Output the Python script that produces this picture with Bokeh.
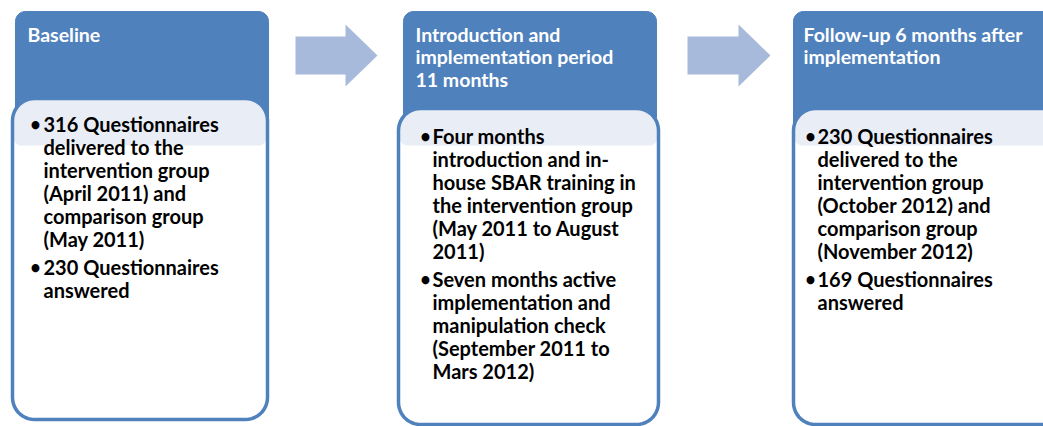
import numpy as np
from bokeh.plotting import figure
from bokeh.models import Range1d
from bokeh.core.properties import value
from bokeh.embed import file_html
from bokeh.resources import INLINE

# ---- content ----
header_lines = [
    ["Baseline"],
    ["Introduction and", "implementation period", "11 months"],
    ["Follow-up 6 months after", "implementation"],
]
bullet_lines = [
    [
        ["316 Questionnaires", "delivered to the", "intervention group",
         "(April 2011) and", "comparison group", "(May 2011)"],
        ["230 Questionnaires", "answered"],
    ],
    [
        ["Four months", "introduction and in-", "house SBAR training in",
         "the intervention group", "(May 2011 to August", "2011)"],
        ["Seven months active", "implementation and", "manipulation check",
         "(September 2011 to", "Mars 2012)"],
    ],
    [
        ["230 Questionnaires", "delivered to the", "intervention group",
         "(October 2012) and", "comparison group", "(November 2012)"],
        ["169 Questionnaires", "answered"],
    ],
]

# ---- layout (page pixel coords) ----
OFF = 0
W, H = 1043, 426
header_x = [(15, 268), (403, 656), (793, 1070)]
white_x = [(12, 267), (398, 658), (793, 1075)]
white_y = [(98, 419), (108, 424), (108, 424)]
header_text_x = [27, 415, 803]
bullet_x = [35, 425, 810]
bullet_text_x = [43, 432, 817]
bullet_y0 = [123, 135, 135]
arrows = [(295, 345, 377), (687, 738, 770)]

BLUE = "#4f81bd"
ARROW = "#a7badb"
BAND = "#e9edf5"
FONT = "Lato"


def rrect(x0, x1, y0, y1, r_top, r_bot, n=12):
    xs, ys = [], []
    corners = [
        (x0 + r_top, y0 + r_top, r_top, np.pi, 1.5 * np.pi),
        (x1 - r_top, y0 + r_top, r_top, 1.5 * np.pi, 2 * np.pi),
        (x1 - r_bot, y1 - r_bot, r_bot, 0, 0.5 * np.pi),
        (x0 + r_bot, y1 - r_bot, r_bot, 0.5 * np.pi, np.pi),
    ]
    for cx, cy, r, a0, a1 in corners:
        t = np.linspace(a0, a1, n)
        xs.extend(cx + r * np.cos(t))
        ys.extend(cy + r * np.sin(t))
    return [x - OFF for x in xs], [y - OFF for y in ys]


p = figure(width=W, height=H, output_backend="svg", toolbar_location=None,
           x_range=Range1d(0, W), y_range=Range1d(H, 0), min_border=0)
p.axis.visible = False
p.grid.visible = False
p.outline_line_color = None
p.background_fill_color = "white"
p.border_fill_color = "white"

# arrows
for (xs0, xh, xt) in arrows:
    ax = [xs0, xh, xh, xt, xh, xh, xs0]
    ay = [36, 36, 24, 55, 86, 74, 74]
    p.patch([a - OFF for a in ax], [a - OFF for a in ay], fill_color=ARROW,
            line_color=None)

for i in range(3):
    hx0, hx1 = header_x[i]
    xs, ys = rrect(hx0, hx1, 11, 200, 10, 10)
    p.patch(xs, ys, fill_color=BLUE, line_color=BLUE, line_width=1)

    wx0, wx1 = white_x[i]
    wy0, wy1 = white_y[i]
    xs, ys = rrect(wx0, wx1, wy0, wy1, 22, 22)
    p.patch(xs, ys, fill_color="white", line_color=None)
    xs, ys = rrect(wx0 + 1, wx1 - 1, wy0 + 1, 145, 21, 8)
    p.patch(xs, ys, fill_color=BAND, line_color=None)
    xs, ys = rrect(wx0, wx1, wy0, wy1, 22, 22)
    p.patch(xs, ys, fill_color=None, line_color=BLUE, line_width=3.5)

    hy = [33.5 + 22.5 * k - OFF for k in range(len(header_lines[i]))]
    p.text(x=[header_text_x[i] - OFF] * len(hy), y=hy, text=header_lines[i],
           text_font=value(FONT), text_font_style="bold",
           text_font_size="19.5px", text_color="white",
           text_baseline="middle", text_align="left")

    y = bullet_y0[i]
    for para in bullet_lines[i]:
        p.text(x=[bullet_x[i] - OFF], y=[y - OFF], text=["•"],
               text_font=value(FONT), text_font_style="bold",
               text_font_size="18px", text_color="black",
               text_baseline="middle", text_align="center")
        ly = [y + 23 * k - OFF for k in range(len(para))]
        p.text(x=[bullet_text_x[i] - OFF] * len(ly), y=ly, text=para,
               text_font=value(FONT), text_font_style="bold",
               text_font_size="20px", text_color="black",
               text_baseline="middle", text_align="left")
        y += 23 * len(para) + 5

open("out.html", "w").write(file_html(p, INLINE))
